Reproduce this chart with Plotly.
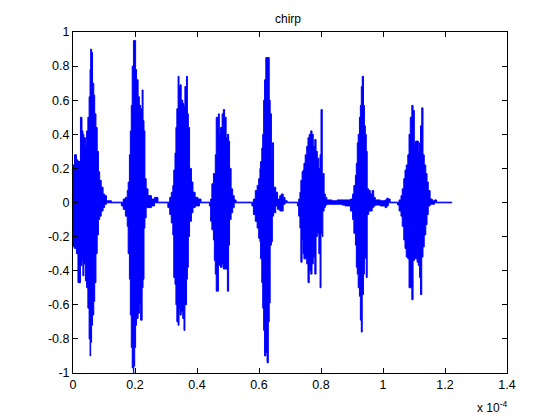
import plotly.graph_objects as go

# time in units of 1e-4 s, upper and lower envelope of the waveform
time_e4 = [0.000,0.005,0.011,0.016,0.024,0.029,0.032,0.035,0.040,0.044,0.048,0.052,0.055,0.057,0.060,0.063,0.067,0.070,0.074,0.078,0.082,0.086,0.091,0.097,0.102,0.108,0.124,0.156,0.162,0.169,0.175,0.178,0.182,0.185,0.188,0.191,0.195,0.196,0.199,0.202,0.205,0.210,0.214,0.218,0.223,0.226,0.229,0.232,0.236,0.242,0.253,0.263,0.274,0.306,0.312,0.317,0.322,0.325,0.329,0.332,0.335,0.339,0.342,0.345,0.349,0.354,0.358,0.361,0.366,0.369,0.372,0.376,0.382,0.387,0.394,0.403,0.408,0.413,0.440,0.444,0.448,0.453,0.456,0.459,0.462,0.466,0.469,0.472,0.476,0.481,0.485,0.489,0.494,0.498,0.502,0.505,0.510,0.515,0.520,0.526,0.577,0.582,0.588,0.594,0.599,0.603,0.605,0.609,0.612,0.615,0.618,0.622,0.626,0.630,0.633,0.636,0.640,0.643,0.647,0.654,0.660,0.667,0.672,0.678,0.684,0.691,0.724,0.728,0.732,0.735,0.739,0.742,0.745,0.749,0.754,0.758,0.762,0.767,0.771,0.775,0.780,0.784,0.788,0.793,0.797,0.800,0.804,0.806,0.810,0.814,0.819,0.835,0.852,0.868,0.878,0.895,0.902,0.906,0.911,0.914,0.917,0.920,0.924,0.927,0.930,0.933,0.937,0.940,0.943,0.946,0.949,0.954,0.959,0.965,0.970,0.975,0.991,1.007,1.012,1.017,1.023,1.047,1.052,1.058,1.062,1.067,1.071,1.075,1.080,1.084,1.088,1.093,1.097,1.101,1.105,1.110,1.114,1.118,1.121,1.125,1.129,1.133,1.138,1.142,1.146,1.152,1.159,1.166,1.173,1.222]

upper_env = [0.22,0.28,0.25,0.24,0.50,0.42,0.40,0.38,0.33,0.42,0.50,0.62,0.78,0.90,0.88,0.70,0.63,0.52,0.44,0.30,0.18,0.13,0.09,0.05,0.04,0.01,0.002,0.002,0.02,0.03,0.07,0.12,0.28,0.42,0.57,0.80,0.95,0.95,0.95,0.78,0.72,0.62,0.57,0.55,0.66,0.48,0.42,0.14,0.08,0.04,0.02,0.03,0.002,0.002,0.03,0.06,0.10,0.19,0.29,0.44,0.55,0.74,0.68,0.69,0.60,0.58,0.56,0.68,0.74,0.52,0.44,0.20,0.12,0.06,0.03,0.02,0.02,0.002,0.002,0.02,0.11,0.17,0.17,0.28,0.50,0.44,0.52,0.40,0.44,0.52,0.545,0.50,0.38,0.40,0.36,0.20,0.08,0.04,0.015,0.002,0.002,0.02,0.07,0.10,0.14,0.20,0.24,0.32,0.40,0.60,0.72,0.85,0.85,0.85,0.60,0.52,0.26,0.35,0.09,0.06,0.02,0.04,0.05,0.03,0.01,0.002,0.002,0.02,0.06,0.13,0.18,0.19,0.23,0.28,0.33,0.38,0.40,0.42,0.40,0.33,0.37,0.30,0.26,0.20,0.28,0.545,0.15,0.17,0.05,0.03,0.015,0.01,0.015,0.015,0.015,0.02,0.05,0.10,0.16,0.23,0.35,0.40,0.50,0.57,0.68,0.74,0.57,0.45,0.40,0.30,0.08,0.07,0.05,0.07,0.03,0.015,0.01,0.015,0.025,0.02,0.002,0.002,0.015,0.04,0.08,0.14,0.19,0.22,0.28,0.40,0.50,0.57,0.54,0.34,0.36,0.36,0.30,0.35,0.45,0.555,0.28,0.22,0.17,0.12,0.07,0.02,0.01,0.015,0.002,0.002]

lower_env = [-0.24,-0.26,-0.27,-0.30,-0.47,-0.37,-0.34,-0.43,-0.36,-0.46,-0.50,-0.62,-0.80,-0.90,-0.82,-0.72,-0.66,-0.58,-0.47,-0.30,-0.19,-0.10,-0.08,-0.05,-0.03,-0.01,-0.002,-0.002,-0.02,-0.04,-0.08,-0.14,-0.30,-0.45,-0.66,-0.85,-0.97,-1.00,-0.96,-0.85,-0.72,-0.68,-0.65,-0.60,-0.69,-0.50,-0.45,-0.15,-0.09,-0.03,-0.03,-0.02,-0.002,-0.002,-0.03,-0.07,-0.12,-0.19,-0.44,-0.48,-0.60,-0.70,-0.72,-0.62,-0.66,-0.64,-0.68,-0.75,-0.60,-0.45,-0.38,-0.20,-0.11,-0.06,-0.03,-0.02,-0.02,-0.002,-0.002,-0.02,-0.11,-0.16,-0.22,-0.34,-0.42,-0.52,-0.52,-0.36,-0.37,-0.38,-0.36,-0.39,-0.39,-0.39,-0.52,-0.25,-0.10,-0.06,-0.03,-0.002,-0.002,-0.02,-0.07,-0.11,-0.15,-0.21,-0.23,-0.33,-0.47,-0.62,-0.75,-0.90,-0.88,-0.94,-0.70,-0.59,-0.25,-0.23,-0.08,-0.06,-0.02,-0.04,-0.05,-0.05,-0.01,-0.002,-0.002,-0.02,-0.08,-0.15,-0.35,-0.22,-0.30,-0.33,-0.33,-0.36,-0.47,-0.40,-0.42,-0.36,-0.32,-0.42,-0.20,-0.18,-0.30,-0.50,-0.18,-0.20,-0.05,-0.03,-0.015,-0.01,-0.01,-0.01,-0.015,-0.02,-0.05,-0.10,-0.18,-0.25,-0.38,-0.42,-0.50,-0.55,-0.69,-0.76,-0.54,-0.42,-0.33,-0.32,-0.44,-0.07,-0.05,-0.05,-0.03,-0.02,-0.015,-0.02,-0.03,-0.02,-0.002,-0.002,-0.015,-0.05,-0.08,-0.14,-0.22,-0.27,-0.32,-0.33,-0.50,-0.50,-0.57,-0.34,-0.33,-0.33,-0.35,-0.37,-0.44,-0.54,-0.32,-0.26,-0.19,-0.13,-0.07,-0.02,-0.01,-0.01,-0.002,-0.002]

x_ticks = [0, 0.2, 0.4, 0.6, 0.8, 1.0, 1.2, 1.4]
x_tick_labels = ["0", "0.2", "0.4", "0.6", "0.8", "1", "1.2", "1.4"]
y_ticks = [-1, -0.8, -0.6, -0.4, -0.2, 0, 0.2, 0.4, 0.6, 0.8, 1]
y_tick_labels = ["-1", "-0.8", "-0.6", "-0.4", "-0.2", "0", "0.2", "0.4", "0.6", "0.8", "1"]

poly_x = time_e4 + time_e4[::-1]
poly_y = upper_env + lower_env[::-1]

fig = go.Figure()
fig.add_trace(go.Scatter(
    x=poly_x, y=poly_y, mode="lines", fill="toself",
    fillcolor="#0000FF", line=dict(color="#0000FF", width=1, shape="hv"),
    hoverinfo="skip", showlegend=False,
))

font = dict(family="Liberation Sans, Arial, sans-serif", size=12.5, color="black")
axis_common = dict(
    ticks="inside", ticklen=5, tickcolor="black", showline=True,
    linecolor="black", linewidth=1, mirror="ticks", showgrid=False,
    zeroline=False, tickfont=font,
)
# the page body adds an 8px offset, so margins are reduced by 8px on the left/top
fig.update_layout(
    width=560, height=420,
    margin=dict(l=65, r=61, t=24, b=55),
    paper_bgcolor="white", plot_bgcolor="white",
    font=font,
    title=dict(text="chirp", x=0.5, xanchor="center", y=0.975, yanchor="middle",
               font=dict(family="Liberation Sans, Arial, sans-serif", size=12, color="black")),
    xaxis=dict(range=[0, 1.4], tickvals=x_ticks, ticktext=x_tick_labels, **axis_common),
    yaxis=dict(range=[-1, 1], tickvals=y_ticks, ticktext=y_tick_labels, **axis_common),
    annotations=[dict(text="x 10<sup>-4</sup>", xref="paper", yref="paper",
                      x=0.926, y=-0.10, xanchor="left", yanchor="middle",
                      showarrow=False, font=dict(family="Liberation Sans, Arial, sans-serif", size=12, color="black"))],
)

fig.write_html("out.html")
